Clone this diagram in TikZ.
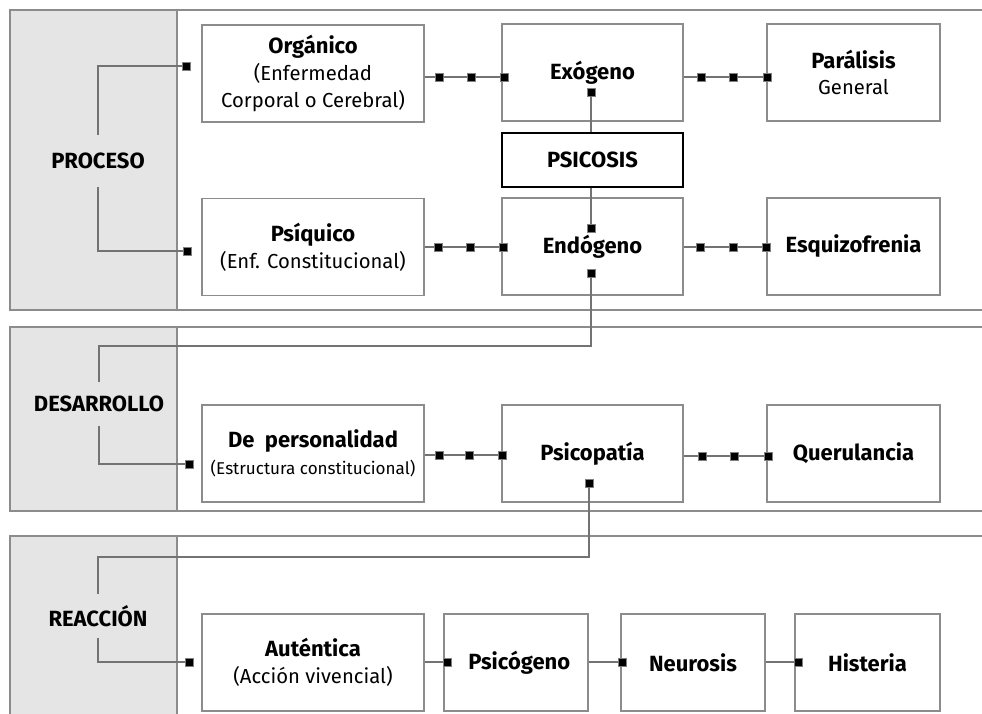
\documentclass[tikz,border=0pt]{standalone}
\usepackage{fontspec}
\setmainfont{Fira Sans}
\usepackage{tikz}

\newcommand{\boxtitle}[1]{{\fontsize{16.5}{20}\selectfont\bfseries #1}}

\begin{document}
\begin{tikzpicture}[x=0.75pt,y=-0.75pt,
  panel/.style={draw=black!45,line width=1.1pt},
  box/.style={draw=black!45,fill=white,line width=1.1pt,align=center,
    font=\fontsize{15.2}{20}\selectfont,minimum height=72.75pt},
  phase/.style={font=\fontsize{16.5}{18}\selectfont\bfseries,minimum height=32pt,inner sep=0pt},
  sq/.style={draw=black!50,fill=black,line width=0.6pt,minimum size=6pt,inner sep=0pt},
  link/.style={draw=black!55,line width=1.5pt}]
\useasboundingbox (0,0) rectangle (982,714);
\clip (0,0) rectangle (982,714);

% Panels
\fill[gray!20] (10,10) rectangle (177,310);
\draw[panel] (10,10) rectangle (995,310);
\draw[panel] (177,10) -- (177,310);
\fill[gray!20] (10,327) rectangle (177,511);
\draw[panel] (10,327) rectangle (995,511);
\draw[panel] (177,327) -- (177,511);
\fill[gray!20] (10,536) rectangle (177,740);
\draw[panel] (10,536) rectangle (995,740);
\draw[panel] (177,536) -- (177,740);

% Phase labels
\node[phase,minimum height=39pt] (pro) at (98,161) {PROCESO};
\node[phase] (des) at (99,404) {DESARROLLO};
\node[phase,minimum height=33pt] (rea) at (98,616) {REACCIÓN};

% Proceso boxes
\node[box,minimum width=166.5pt] (org) at (313,73.5) {\boxtitle{Orgánico}\\(Enfermedad\\Corporal o Cerebral)};
\node[box,minimum width=135.75pt] (exo) at (592.5,72.5) {\boxtitle{Exógeno}};
\node[box,minimum width=129.75pt] (par) at (853.5,72.5) {\boxtitle{Parálisis}\\General};
\node[box,draw=black,line width=0.8pt,minimum width=135.75pt,minimum height=40.5pt] (psi) at (592.5,160) {\boxtitle{PSICOSIS}};
\node[box,minimum width=166.5pt] (psq) at (313,247) {\boxtitle{Psíquico}\\(Enf. Constitucional)};
\node[box,minimum width=135.75pt] (endo) at (592.5,246.5) {\boxtitle{Endógeno}};
\node[box,minimum width=129.75pt] (esq) at (853.5,246.5) {\boxtitle{Esquizofrenia}};

% Desarrollo boxes
\node[box,minimum width=166.5pt] (dep) at (313,453.5) {\boxtitle{De~ personalidad}\\{\fontsize{12.8}{16}\selectfont(Estructura constitucional)}};
\node[box,minimum width=135.75pt] (pcp) at (592.5,453.5) {\boxtitle{Psicopatía}};
\node[box,minimum width=129.75pt] (que) at (853.5,453.5) {\boxtitle{Querulancia}};

% Reaccion boxes
\node[box,minimum width=166.5pt] (aut) at (313,662.5) {\boxtitle{Auténtica}\\(Acción vivencial)};
\node[box,minimum width=108pt] (psg) at (516,662.5) {\hspace{5pt}\boxtitle{Psicógeno}};
\node[box,minimum width=108pt] (neu) at (693,662.5) {\boxtitle{Neurosis}};
\node[box,minimum width=108.75pt] (his) at (867.5,662.5) {\boxtitle{Histeria}};

% Markers
\node[sq] (pA) at (186,66) {};
\node[sq] (pB) at (187,251) {};
\node[sq] (o1) at (439,77) {};
\node[sq] (o2) at (471,77) {};
\node[sq] (o3) at (504,77) {};
\node[sq] (o4) at (701,77) {};
\node[sq] (o5) at (733,77) {};
\node[sq] (o6) at (767,77) {};
\node[sq] (exB) at (591,92) {};
\node[sq] (eT) at (591,228) {};
\node[sq] (eB) at (591,273) {};
\node[sq] (q1) at (438,247) {};
\node[sq] (q2) at (470,247) {};
\node[sq] (q3) at (503,247) {};
\node[sq] (q4) at (700,247) {};
\node[sq] (q5) at (733,247) {};
\node[sq] (q6) at (766,247) {};
\node[sq] (dA) at (189,464) {};
\node[sq] (r1) at (439,455) {};
\node[sq] (r2) at (469,455) {};
\node[sq] (r3) at (502,455) {};
\node[sq] (r4) at (702,456) {};
\node[sq] (r5) at (734,456) {};
\node[sq] (r6) at (768,456) {};
\node[sq] (pcB) at (589,483) {};
\node[sq] (aA) at (189,662) {};
\node[sq] (s1) at (447,662) {};
\node[sq] (s2) at (622,662) {};
\node[sq] (s3) at (798,662) {};
\coordinate (kD) at (591,346);
\coordinate (kR) at (589,557);

% Brackets from the phase labels
\draw[link] (pro.north) |- (pA);
\draw[link] (pro.south) |- (pB);
\draw[link] (eB) -- (kD) -| (des.north);
\draw[link] (des.south) |- (dA);
\draw[link] (pcB) -- (kR) -| (rea.north);
\draw[link] (rea.south) |- (aA);

% Chains
\draw[link] (org.east |- o1) -- (o1) -- (o2) -- (o3);
\draw[link] (exo.east |- o4) -- (o4) -- (o5) -- (o6);
\draw[link] (psq.east |- q1) -- (q1) -- (q2) -- (q3);
\draw[link] (endo.east |- q4) -- (q4) -- (q5) -- (q6);
\draw[link] (dep.east |- r1) -- (r1) -- (r2) -- (r3);
\draw[link] (pcp.east |- r4) -- (r4) -- (r5) -- (r6);
\draw[link] (aut.east |- s1) -- (s1);
\draw[link] (psg.east |- s2) -- (s2);
\draw[link] (neu.east |- s3) -- (s3);

% Psicosis links
\draw[link] (exB) -- (exB |- psi.north);
\draw[link] (psi.south -| eT) -- (eT);

\end{tikzpicture}
\end{document}
